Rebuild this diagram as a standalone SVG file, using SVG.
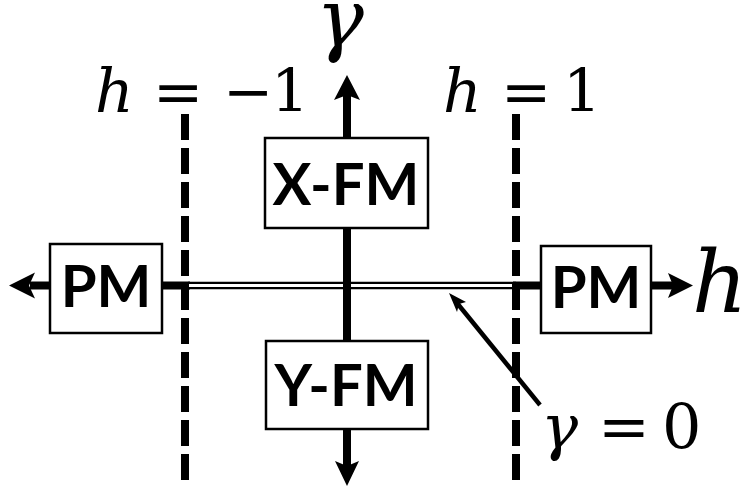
<svg xmlns="http://www.w3.org/2000/svg" width="748" height="490" viewBox="0 0 748 490">
<style>
.box{fill:#fff;stroke:#000;stroke-width:2.5}
.lbl{font-family:Lato,"Liberation Sans",sans-serif;font-weight:bold;font-size:58px;fill:#000;text-anchor:middle}
.thick{stroke:#000;stroke-width:8;fill:none}
.dash{stroke:#000;stroke-width:8;stroke-dasharray:26 8;fill:none}
.head{fill:#000}
.m{font-family:"DejaVu Serif","Liberation Serif",serif;fill:#000}
</style>
<rect width="748" height="490" fill="#fff"/>
<g id="connectors">
  <line class="thick" x1="30" y1="285.5" x2="52" y2="285.5"/>
  <path class="head" d="M9,285.5 L35,272.5 L29,285.5 L35,298.5 Z"/>
  <line class="thick" x1="160" y1="285.5" x2="190" y2="285.5"/>
  <line x1="188" y1="285.5" x2="516" y2="285.5" stroke="#000" stroke-width="7.6"/>
  <line x1="186" y1="285.5" x2="516" y2="285.5" stroke="#fff" stroke-width="2.8"/>
  <line class="thick" x1="513" y1="285.5" x2="543" y2="285.5"/>
  <line class="thick" x1="650" y1="285.5" x2="674" y2="285.5"/>
  <path class="head" d="M693,285.5 L668,273 L673,285.5 L668,298 Z"/>
  <line class="thick" x1="347" y1="94" x2="347" y2="468"/>
  <path class="head" d="M347,75 L334,100 L347,95 L360,100 Z"/>
  <path class="head" d="M347,486 L335,461 L347,466 L359,461 Z"/>
  <line class="dash" x1="185" y1="114" x2="185" y2="481"/>
  <line class="dash" x1="516" y1="114" x2="516" y2="481"/>
  <line x1="540" y1="405" x2="457" y2="303" stroke="#000" stroke-width="4.5"/>
  <path class="head" d="M449,293 L466,302 L459,304 L457,312 Z"/>
</g>
<g id="node-xfm">
  <rect class="box" x="265" y="138" width="163" height="90"/>
  <text class="lbl" x="346" y="205">X-FM</text>
</g>
<g id="node-yfm">
  <rect class="box" x="266" y="341" width="162" height="88"/>
  <text class="lbl" x="346" y="406">Y-FM</text>
</g>
<g id="node-pm-left">
  <rect class="box" x="50" y="244" width="112" height="89"/>
  <text class="lbl" x="106" y="307">PM</text>
</g>
<g id="node-pm-right">
  <rect class="box" x="541" y="246" width="110" height="87"/>
  <text class="lbl" x="596" y="308">PM</text>
</g>
<g id="labels">
  <text class="m" x="316" y="46" font-size="80" font-style="italic">γ</text>
  <text class="m" y="112" font-size="60"><tspan font-style="italic" x="95">h</tspan><tspan x="153">=</tspan><tspan x="223">−</tspan><tspan x="271">1</tspan></text>
  <text class="m" y="112" font-size="60"><tspan font-style="italic" x="443">h</tspan><tspan x="501">=</tspan><tspan x="563">1</tspan></text>
  <text class="m" x="692" y="312" font-size="86" font-style="italic">h</text>
  <text class="m" y="448" font-size="62"><tspan font-style="italic" x="541">γ</tspan><tspan x="598">=</tspan><tspan x="662">0</tspan></text>
</g>
</svg>
